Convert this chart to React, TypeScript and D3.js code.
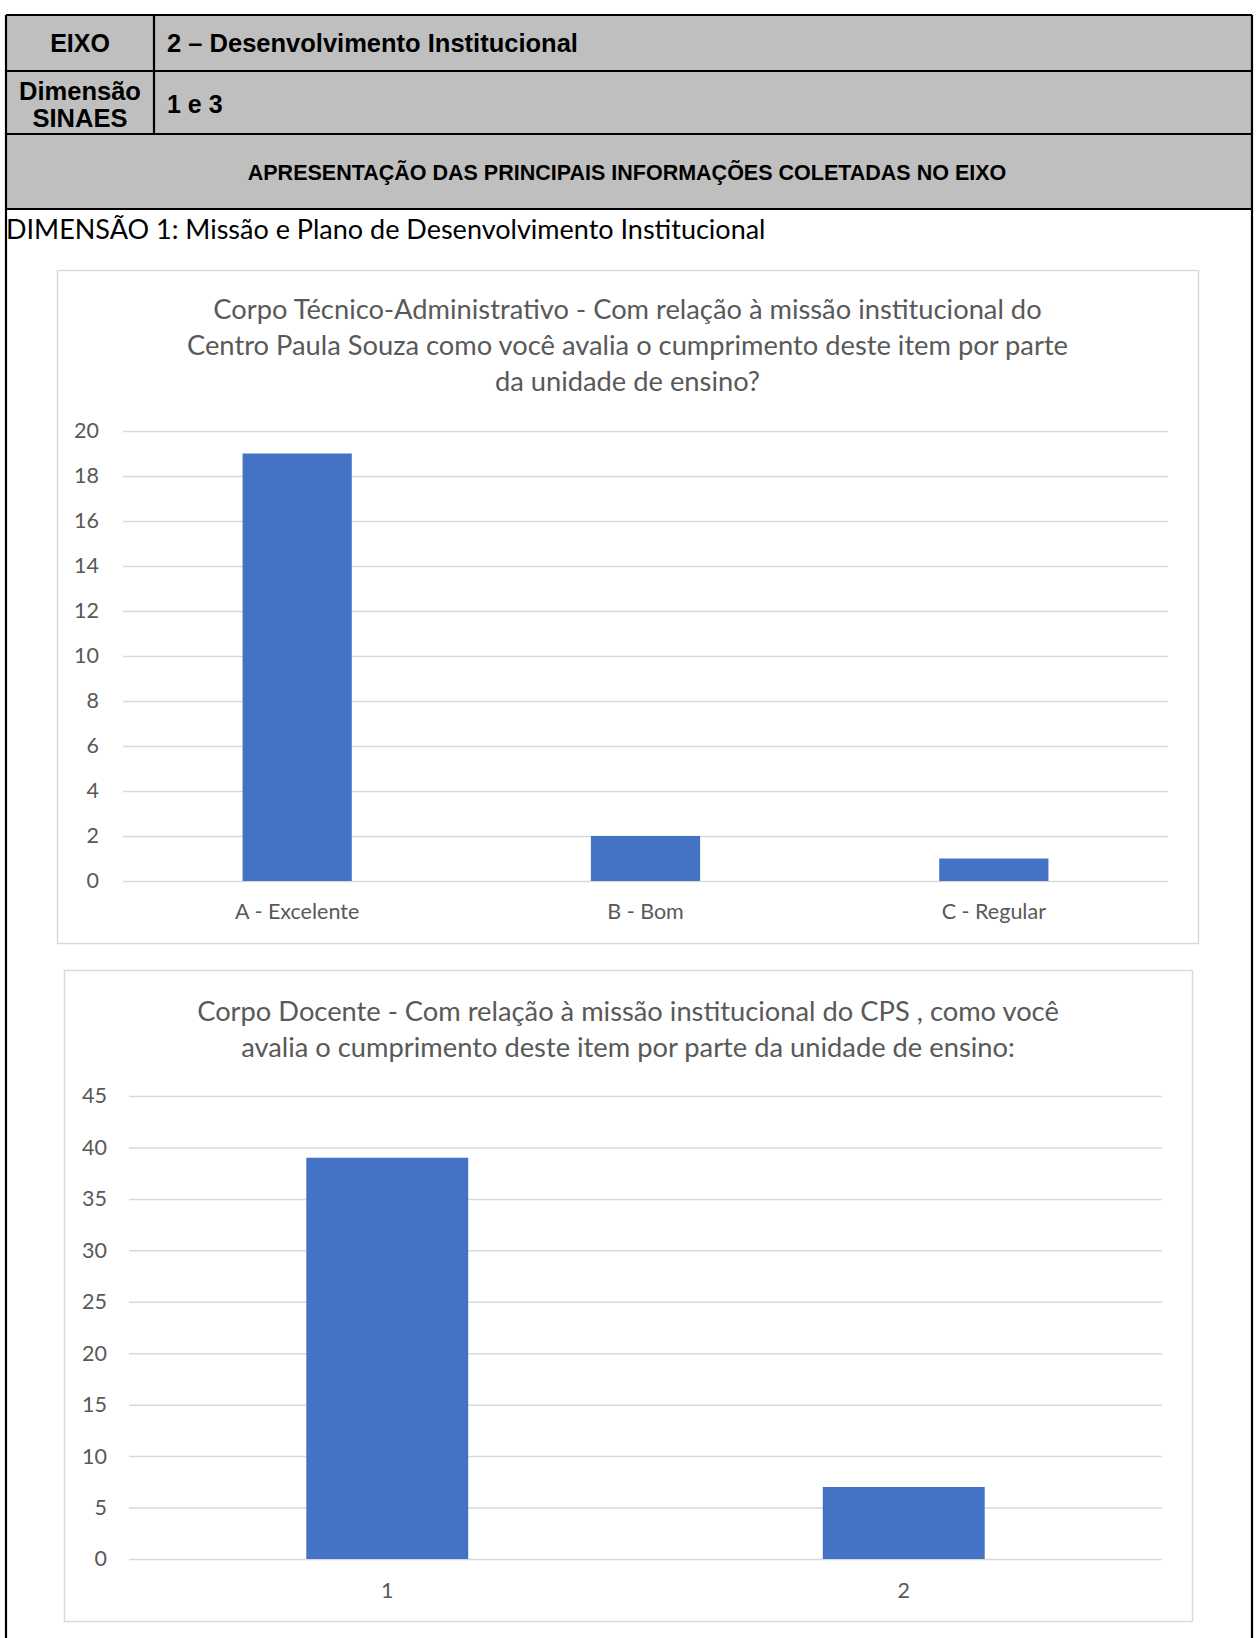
import { useRef, useEffect } from 'react';
import * as d3 from 'd3';

// Chart 1 - technical staff
const techCategories = ["A - Excelente", "B - Bom", "C - Regular"];
const techValues = [19, 2, 1];
const techTicks = [0, 2, 4, 6, 8, 10, 12, 14, 16, 18, 20];
const techTitle = [
  "Corpo Técnico-Administrativo - Com relação à missão institucional do",
  "Centro Paula Souza como você avalia o cumprimento deste item por parte",
  "da unidade de ensino?"
];

// Chart 2 - teachers
const docCategories = ["1", "2"];
const docValues = [39, 7];
const docTicks = [0, 5, 10, 15, 20, 25, 30, 35, 40, 45];
const docTitle = [
  "Corpo Docente - Com relação à missão institucional do CPS , como você",
  "avalia o cumprimento deste item por parte da unidade de ensino:"
];

const W = 1256;
const H = 1638;
const BLUE = "#4472c4";
const GRID = "#d9d9d9";
const TEXT = "#595959";
const CHART_FONT = "Lato, 'Noto Sans', sans-serif";
const HEAD_FONT = "'Liberation Sans', Arial, sans-serif";

type Box = { x0: number; y0: number; x1: number; y1: number };

function drawBarChart(
  svg: d3.Selection<SVGSVGElement, unknown, null, undefined>,
  box: Box,
  plot: Box,
  categories: string[],
  values: number[],
  ticks: number[],
  title: string[],
  titleY: number,
  yPad: number,
  xPad: number
) {
  const g = svg.append("g");

  g.append("rect")
    .attr("x", box.x0 + 0.5)
    .attr("y", box.y0 + 0.5)
    .attr("width", box.x1 - box.x0)
    .attr("height", box.y1 - box.y0)
    .attr("fill", "#fff")
    .attr("stroke", GRID)
    .attr("stroke-width", 1.5);

  // title
  g.append("g").selectAll("text")
    .data(title)
    .join("text")
    .attr("x", (box.x0 + box.x1) / 2)
    .attr("y", (_, i) => titleY + i * 35.8)
    .attr("text-anchor", "middle")
    .attr("font-family", CHART_FONT)
    .attr("font-size", 27.3)
    .attr("fill", TEXT)
    .text(d => d);

  const x = d3.scaleBand()
    .domain(categories)
    .range([plot.x0, plot.x1])
    .paddingInner(0.6865)
    .paddingOuter(0.6865 / 2);

  const y = d3.scaleLinear()
    .domain([0, d3.max(ticks)!])
    .range([plot.y1, plot.y0]);

  // gridlines + y labels
  const yAxis = g.append("g")
    .attr("transform", `translate(${plot.x0},0)`)
    .call(d3.axisLeft(y).tickValues(ticks).tickSize(-(plot.x1 - plot.x0)).tickPadding(yPad));
  yAxis.select(".domain").remove();
  yAxis.selectAll(".tick line").attr("stroke", GRID).attr("stroke-width", 1.5);
  yAxis.selectAll(".tick text")
    .attr("fill", TEXT)
    .attr("font-size", 21.5)
    .attr("font-family", CHART_FONT);

  // bars
  const rows = categories.map((c, i) => ({ c, v: values[i] }));
  g.append("g").selectAll("rect")
    .data(rows)
    .join("rect")
    .attr("x", d => x(d.c)!)
    .attr("y", d => y(d.v))
    .attr("width", x.bandwidth())
    .attr("height", d => y(0) - y(d.v))
    .attr("fill", BLUE);

  // x labels
  const xAxis = g.append("g")
    .attr("transform", `translate(0,${plot.y1})`)
    .call(d3.axisBottom(x).tickSize(0).tickPadding(xPad));
  xAxis.select(".domain").remove();
  xAxis.selectAll(".tick text")
    .attr("fill", TEXT)
    .attr("font-size", 21.5)
    .attr("font-family", CHART_FONT);
}

export default function App() {
  const ref = useRef<SVGSVGElement>(null);

  useEffect(() => {
    if (!ref.current) return;
    const svg = d3.select(ref.current);
    svg.selectAll("*").remove();

    // header table
    const left = 6, right = 1252, top = 15;
    svg.append("rect")
      .attr("x", left).attr("y", top)
      .attr("width", right - left).attr("height", 209 - top)
      .attr("fill", "#bfbfbf");

    const lines: [number, number, number, number][] = [
      [left, top, right, top],
      [left, 71, right, 71],
      [left, 134, right, 134],
      [left, 209, right, 209],
      [154, top, 154, 134],
      [left, top, left, H],
      [right, top, right, H]
    ];
    svg.append("g").selectAll("line")
      .data(lines)
      .join("line")
      .attr("x1", d => d[0]).attr("y1", d => d[1])
      .attr("x2", d => d[2]).attr("y2", d => d[3])
      .attr("stroke", "#000")
      .attr("stroke-width", 2.2);

    const head = svg.append("g")
      .attr("font-family", HEAD_FONT)
      .attr("font-weight", "bold")
      .attr("fill", "#000");
    head.append("text").attr("x", 80).attr("y", 43).attr("dy", "0.35em")
      .attr("text-anchor", "middle").attr("font-size", 25).text("EIXO");
    head.append("text").attr("x", 167).attr("y", 43).attr("dy", "0.35em")
      .attr("font-size", 25.5).text("2 – Desenvolvimento Institucional");
    head.append("text").attr("x", 80).attr("y", 91).attr("dy", "0.35em")
      .attr("text-anchor", "middle").attr("font-size", 25.5).text("Dimensão");
    head.append("text").attr("x", 80).attr("y", 118).attr("dy", "0.35em")
      .attr("text-anchor", "middle").attr("font-size", 25.5).text("SINAES");
    head.append("text").attr("x", 167).attr("y", 104).attr("dy", "0.35em")
      .attr("font-size", 25).text("1 e 3");
    head.append("text").attr("x", 627).attr("y", 172).attr("dy", "0.35em")
      .attr("text-anchor", "middle").attr("font-size", 21.5).text("APRESENTAÇÃO DAS PRINCIPAIS INFORMAÇÕES COLETADAS NO EIXO");

    svg.append("text")
      .attr("x", 6).attr("y", 239)
      .attr("font-family", CHART_FONT)
      .attr("font-size", 27)
      .attr("fill", "#000")
      .text("DIMENSÃO 1: Missão e Plano de Desenvolvimento Institucional");

    drawBarChart(svg,
      { x0: 57, y0: 270, x1: 1198, y1: 943 },
      { x0: 123, y0: 431, x1: 1168, y1: 881 },
      techCategories, techValues, techTicks, techTitle, 319, 24, 23);

    drawBarChart(svg,
      { x0: 64, y0: 970, x1: 1192, y1: 1621 },
      { x0: 129, y0: 1096, x1: 1162, y1: 1559 },
      docCategories, docValues, docTicks, docTitle, 1021, 22, 24);
  }, []);

  return (
    <div style={{ position: "absolute", left: 0, top: 0, background: "#fff" }}>
      <svg ref={ref} width={W} height={H} style={{ display: "block" }} />
    </div>
  );
}
